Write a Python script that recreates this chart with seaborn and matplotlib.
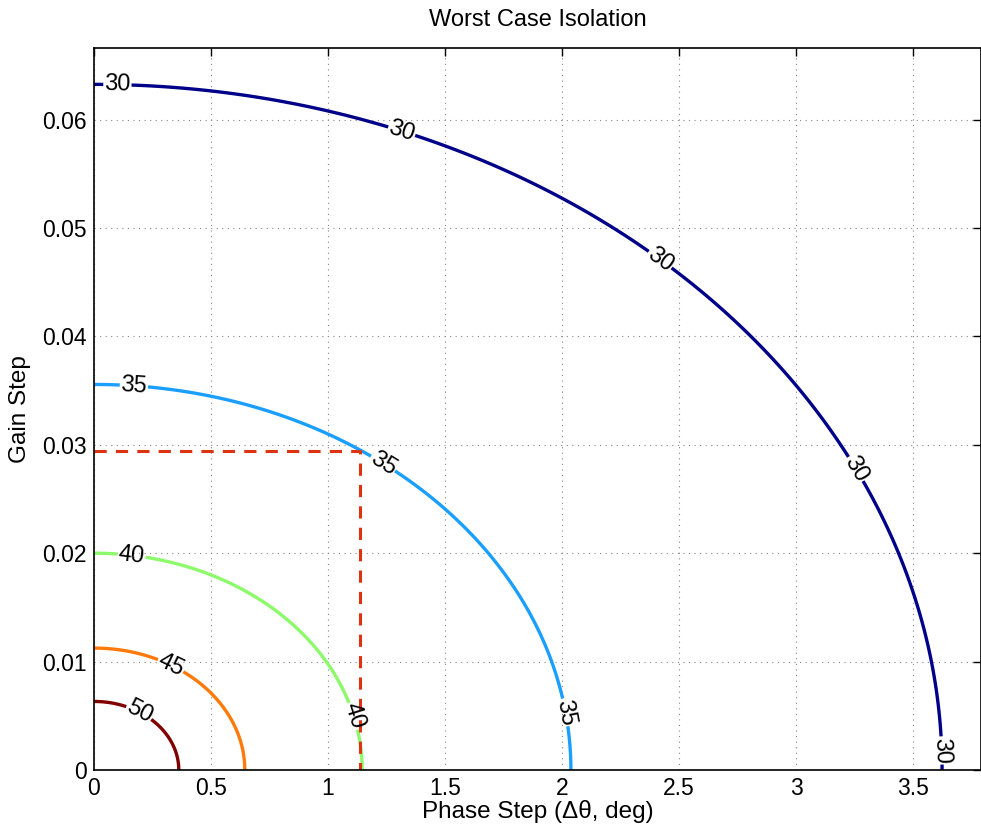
import numpy as np
import matplotlib
matplotlib.use("Agg")
import matplotlib.pyplot as plt
import seaborn as sns

# isolation contour levels (dB)
levels = [30, 35, 40, 45, 50]
level_colors = ["#000088", "#1a9fff", "#8cfa6a", "#ff7a0a", "#800000"]
# grid extents
phase_max = 3.79      # deg
gain_max = 0.0666
# operating point marked with the red dashed lines
op_phase = 1.137
op_gain = 0.0294
# label positions (data coords) for the contour labels
label_pos = [(0.10, 0.0631), (1.31, 0.0586), (2.41, 0.0468), (3.25, 0.0277), (3.62, 0.0018),
             (0.17, 0.0353), (1.19, 0.0267), (2.01, 0.0053),
             (0.16, 0.0196), (1.10, 0.0049),
             (0.325, 0.0095),
             (0.19, 0.0052)]
xticks = [0, 0.5, 1, 1.5, 2, 2.5, 3, 3.5]
yticks = [0, 0.01, 0.02, 0.03, 0.04, 0.05, 0.06]

sns.set_style("white")
plt.rcParams['font.family'] = ['Liberation Sans', 'DejaVu Sans']
plt.rcParams['text.color'] = 'black'
plt.rcParams['axes.labelcolor'] = 'black'
plt.rcParams['xtick.color'] = 'black'
plt.rcParams['ytick.color'] = 'black'

phase = np.linspace(0, phase_max, 400)
gain = np.linspace(0, gain_max, 400)
P, G = np.meshgrid(phase, gain)
# worst-case isolation from gain and phase imbalance
iso = 10 * np.log10(4.0 / (G ** 2 + np.deg2rad(P) ** 2))

fig = plt.figure(figsize=(9.81, 8.32), dpi=100)
ax = fig.add_axes([0.0958, 0.0745, 0.9042, 0.8678])

cs = ax.contour(P, G, iso, levels=levels, colors=level_colors, linewidths=2.4)
ax.clabel(cs, fmt="%d", fontsize=17, inline=True, inline_spacing=1, manual=label_pos,
          colors="black")

sns.lineplot(x=[0, op_phase, op_phase], y=[op_gain, op_gain, 0], sort=False, estimator=None,
             color="#dd3311", linestyle="--", linewidth=2.2, ax=ax)
ax.lines[-1].set_dashes((4, 3))

ax.set_xlim(0, phase_max)
ax.set_ylim(0, gain_max)
ax.set_xticks(xticks)
ax.set_xticklabels(["0", "0.5", "1", "1.5", "2", "2.5", "3", "3.5"])
ax.set_yticks(yticks)
ax.set_yticklabels(["0", "0.01", "0.02", "0.03", "0.04", "0.05", "0.06"])
ax.grid(True, linestyle=(0, (1, 4)), color="#888888", linewidth=0.8)
ax.tick_params(direction="in", top=True, right=True, labelsize=16.5, length=6, width=1, pad=5)
for s in ax.spines.values():
    s.set_linewidth(1.2)
    s.set_color("black")

ax.set_title("Worst Case Isolation", fontsize=17, pad=16)
ax.set_xlabel("Phase Step (\u0394\u03b8, deg)", fontsize=17.5, labelpad=0)
ax.set_ylabel("Gain Step", fontsize=17.5, labelpad=8)

fig.savefig("out.png", dpi=100)
